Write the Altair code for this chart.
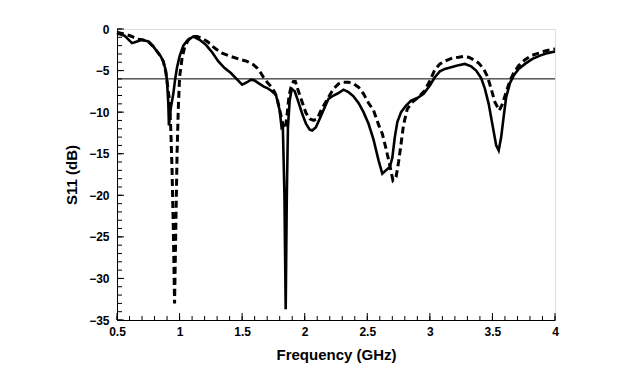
import altair as alt
import pandas as pd

# Solid curve (measured)
freq_solid = [0.50, 0.56, 0.62, 0.66, 0.70, 0.75, 0.79, 0.82, 0.85, 0.87, 0.89, 0.90, 0.91, 0.915,
              0.93, 0.95, 0.965, 0.98, 1.00, 1.03, 1.06, 1.11, 1.16, 1.21, 1.26, 1.31, 1.36, 1.41,
              1.455, 1.50, 1.54, 1.57, 1.60, 1.63, 1.67, 1.70, 1.73, 1.77, 1.80, 1.815, 1.825,
              1.838, 1.848, 1.857, 1.866, 1.88, 1.896, 1.92, 1.95, 1.98, 2.01, 2.04, 2.06, 2.09,
              2.12, 2.16, 2.19, 2.23, 2.27, 2.31, 2.35, 2.39, 2.43, 2.47, 2.51, 2.55, 2.59, 2.62,
              2.65, 2.68, 2.70, 2.72, 2.74, 2.77, 2.81, 2.85, 2.90, 2.95, 3.00, 3.04, 3.08, 3.12,
              3.17, 3.22, 3.28, 3.33, 3.37, 3.41, 3.44, 3.47, 3.50, 3.53, 3.55, 3.57, 3.59, 3.61,
              3.64, 3.67, 3.71, 3.76, 3.82, 3.88, 3.94, 4.00]
s11_solid = [-0.5, -0.8, -1.7, -1.5, -1.3, -1.5, -2.1, -2.7, -3.3, -3.9, -5.0, -6.3, -9.0, -11.6,
             -9.5, -7.8, -6.0, -4.6, -3.3, -2.0, -1.4, -0.9, -1.3, -1.9, -2.8, -3.9, -4.7, -5.3,
             -6.0, -6.7, -6.4, -6.1, -6.2, -6.5, -6.9, -7.1, -7.4, -7.9, -9.8, -11.8, -11.6,
             -20.0, -33.7, -20.0, -11.8, -8.6, -7.2, -7.5, -8.8, -10.2, -11.4, -12.1, -12.2, -11.8,
             -10.8, -9.4, -8.4, -8.0, -7.7, -7.3, -7.6, -8.1, -8.9, -10.0, -11.4, -13.3, -15.8, -17.4,
             -17.0, -16.6, -15.5, -13.0, -11.2, -10.0, -9.2, -8.6, -8.3, -7.8, -6.8, -5.8, -5.1, -4.8,
             -4.6, -4.4, -4.2, -4.5, -5.0, -5.9, -7.2, -9.0, -11.5, -14.0, -14.6, -13.0, -10.5, -8.2,
             -6.5, -5.6, -4.8, -4.2, -3.6, -3.2, -2.9, -2.7]

# Dashed curve (simulated)
freq_dashed = [0.50, 0.56, 0.62, 0.66, 0.70, 0.75, 0.79, 0.82, 0.85, 0.87, 0.89, 0.91, 0.92, 0.93,
               0.94, 0.95, 0.96, 0.97, 0.98, 0.99, 1.00, 1.02, 1.04, 1.07, 1.10, 1.14, 1.18, 1.23,
               1.28, 1.34, 1.41, 1.47, 1.54, 1.59, 1.62, 1.65, 1.67, 1.70, 1.73, 1.76, 1.78, 1.81,
               1.83, 1.845, 1.86, 1.875, 1.89, 1.91, 1.925, 1.95, 1.98, 2.01, 2.04, 2.07, 2.10, 2.13,
               2.16, 2.19, 2.23, 2.27, 2.31, 2.35, 2.39, 2.43, 2.47, 2.51, 2.55, 2.59, 2.62, 2.65,
               2.68, 2.705, 2.73, 2.75, 2.77, 2.79, 2.82, 2.86, 2.91, 2.96, 3.00, 3.04, 3.08, 3.13,
               3.18, 3.23, 3.27, 3.31, 3.35, 3.39, 3.43, 3.46, 3.49, 3.52, 3.555, 3.58, 3.61, 3.64,
               3.67, 3.71, 3.76, 3.81, 3.87, 3.93, 4.00]
s11_dashed = [-0.4, -0.6, -0.9, -1.2, -1.3, -1.5, -2.1, -2.7, -3.3, -3.9, -5.2, -7.5, -8.6, -12.2,
              -17.0, -24.0, -33.0, -24.0, -15.0, -9.5, -5.8, -3.5, -2.2, -1.3, -0.9, -0.9, -1.1, -1.6,
              -2.3, -2.9, -3.3, -3.6, -3.9, -4.3, -4.7, -5.3, -5.8, -6.4, -6.9, -7.6, -8.4, -10.4,
              -11.8, -12.0, -10.2, -8.0, -7.0, -6.3, -6.3, -7.5, -8.8, -10.1, -10.8, -11.0, -10.8, -9.8,
              -9.0, -8.2, -7.2, -6.6, -6.4, -6.4, -6.6, -7.0, -7.8, -8.9, -9.8, -11.5, -12.6, -14.4,
              -16.4, -18.2, -17.8, -16.0, -13.8, -11.5, -9.6, -8.8, -8.2, -7.4, -6.2, -4.9, -4.2, -3.8,
              -3.5, -3.4, -3.3, -3.4, -3.7, -4.1, -4.8, -5.7, -7.2, -8.8, -9.8, -9.0, -7.6, -6.2,
              -5.3, -4.4, -3.7, -3.2, -2.9, -2.6, -2.4]

threshold = [-6]
x_major = [0.5, 1.0, 1.5, 2.0, 2.5, 3.0, 3.5, 4.0]
x_minor = [round(0.5 + 0.1 * i, 1) for i in range(36)]
y_major = [0, -5, -10, -15, -20, -25, -30, -35]
y_minor = list(range(0, -36, -1))

W, H = 438, 291

solid_df = pd.DataFrame({"f": freq_solid, "s": s11_solid})
dashed_df = pd.DataFrame({"f": freq_dashed, "s": s11_dashed})

xscale = alt.Scale(domain=[0.5, 4], nice=False, zero=False)
yscale = alt.Scale(domain=[-35, 0], nice=False, zero=False)

common = dict(ticks=False, grid=False, domainColor="black", domainWidth=1, labelFlush=False,
              labelFontSize=12, labelFontWeight="bold", labelColor="black",
              titleFontSize=15, titleFontWeight="bold", titleColor="black",
              labelFont="Liberation Sans", titleFont="Liberation Sans")
xaxis = alt.Axis(values=x_major, format="~g", labelPadding=6, title="Frequency (GHz)",
                 titlePadding=10, **common)
yaxis = alt.Axis(values=y_major, format="~g", labelPadding=8, title="S11 (dB)",
                 titlePadding=9, **common)

solid = alt.Chart(solid_df).mark_line(color="black", strokeWidth=2.6).encode(
    x=alt.X("f:Q", scale=xscale, axis=xaxis),
    y=alt.Y("s:Q", scale=yscale, axis=yaxis),
    order="f:Q",
)
dashed = alt.Chart(dashed_df).mark_line(color="black", strokeWidth=3, strokeDash=[7, 4]).encode(
    x=alt.X("f:Q", scale=xscale),
    y=alt.Y("s:Q", scale=yscale),
    order="f:Q",
)
thr = alt.Chart(pd.DataFrame({"y": threshold})).mark_rule(color="black", strokeWidth=1).encode(
    y=alt.Y("y:Q", scale=yscale)
)

# inward ticks: centre placed half a tick-length inside the frame
xmin_t = alt.Chart(pd.DataFrame({"v": x_minor})).mark_tick(
    color="black", thickness=1, size=4, orient="vertical", opacity=1).encode(
    x=alt.X("v:Q", scale=xscale), y=alt.value(H - 2))
xmaj_t = alt.Chart(pd.DataFrame({"v": x_major})).mark_tick(
    color="black", thickness=1, size=7, orient="vertical", opacity=1).encode(
    x=alt.X("v:Q", scale=xscale), y=alt.value(H - 3.5))
ymin_t = alt.Chart(pd.DataFrame({"v": y_minor})).mark_tick(
    color="black", thickness=1, size=5, orient="horizontal", opacity=1).encode(
    y=alt.Y("v:Q", scale=yscale), x=alt.value(2.5))
ymaj_t = alt.Chart(pd.DataFrame({"v": y_major})).mark_tick(
    color="black", thickness=1, size=7, orient="horizontal", opacity=1).encode(
    y=alt.Y("v:Q", scale=yscale), x=alt.value(3.5))

chart = alt.layer(xmin_t, xmaj_t, ymin_t, ymaj_t, thr, dashed, solid).properties(
    width=W, height=H,
    autosize=alt.AutoSizeParams(type="none"),
    padding={"left": 109, "top": 21, "right": 70, "bottom": 50},
).configure_view(stroke="black", strokeWidth=1, clip=False).configure(background="white")

chart.save("out.html", embed_options={"renderer": "svg", "actions": False})
